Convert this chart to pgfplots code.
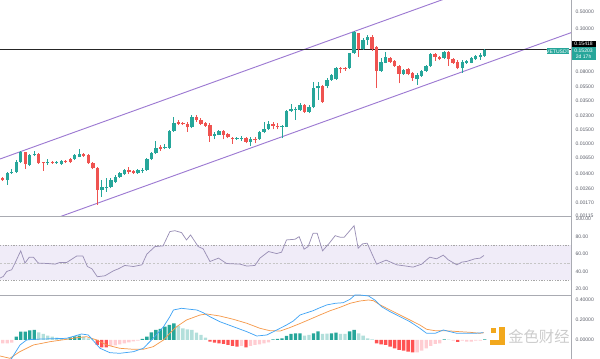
\documentclass[border=0pt]{standalone}
\usepackage{pgfplots}
\pgfplotsset{compat=1.18}
\usepackage{pgfplotstable}
\usepackage{fontspec}
\setmainfont{Liberation Sans}
\newfontfamily\cjk{Noto Sans CJK SC}
\definecolor{up}{HTML}{26A69A}
\definecolor{dn}{HTML}{EF5350}
\definecolor{chan}{HTML}{9D7AD2}
\definecolor{axisgray}{HTML}{A9ABB2}
\definecolor{lbl}{HTML}{5D606B}
\definecolor{rsiline}{HTML}{9A90B6}
\definecolor{rsiband}{HTML}{F0ECF8}
\definecolor{macdblue}{HTML}{42A5F5}
\definecolor{macdorange}{HTML}{F59A4C}
\definecolor{hdark}{HTML}{26A69A}
\definecolor{hlight}{HTML}{B2DFDB}
\definecolor{hred}{HTML}{FF5252}
\definecolor{hpink}{HTML}{FFCDD2}
\definecolor{logo}{HTML}{F2A81D}

\pgfplotstableread{
i o h l c
1 .003535 .004454 .003060 .004327
2 .004327 .004857 .004204 .004454
3 .004454 .006299 .004327 .005946
4 .005946 .008169 .005776 .007937
6 .005452 .007491 .005297 .007278
7 .007278 .008169 .007071 .007491
10 .005776 .006484 .005500 .005946
12 .005726 .006120 .005612 .005946
13 .005661 .006299 .005452 .006120
16 .006484 .007384 .006299 .007215
17 .006930 .008580 .006811 .007491
22 .002648 .003535 .002182 .002863
23 .002782 .003713 .002521 .002913
24 .002913 .003713 .002782 .003535
25 .003366 .004084 .003242 .003889
26 .003889 .004454 .003746 .004290
27 .004168 .004857 .004084 .004719
30 .004290 .004857 .004204 .004719
31 .004625 .005043 .004365 .004719
32 .004719 .006674 .004585 .006484
33 .006484 .007937 .006299 .007644
34 .007644 .010905 .007491 .008987
36 .009091 .009914 .008580 .009250
37 .008909 .014984 .008655 .014557
38 .014557 .022004 .014266 .018503
42 .016200 .023111 .015738 .022004
47 .012709 .014021 .011453 .013349
48 .013082 .014984 .012783 .014557
52 .011654 .012348 .011225 .011893
53 .011722 .012600 .011000 .011893
55 .010687 .012136 .009439 .011453
57 .011453 .014684 .011225 .014266
58 .014266 .019044 .013621 .015423
59 .015423 .019602 .014984 .017666
62 .016483 .017312 .011790 .016820
63 .016483 .026702 .016200 .025941
64 .025941 .031755 .025422 .027245
65 .027245 .029374 .020003 .027485
66 .026702 .032403 .026167 .030851
68 .025422 .030851 .024273 .029374
69 .029374 .060475 .028046 .049978
70 .049978 .060475 .035645 .053411
72 .053411 .066716 .049978 .063519
73 .063519 .075538 .061708 .073388
74 .064812 .093274 .063519 .090615
77 .089059 .139762 .086514 .137353
78 .137353 .261574 .134607 .251931
80 .155525 .211852 .151096 .201700
81 .201700 .233038 .174572 .221879
84 .083092 .118886 .080728 .107763
85 .104698 .143854 .102893 .124512
89 .075538 .087277 .073388 .084791
92 .064812 .077079 .054976 .073388
93 .071300 .085524 .069268 .083092
94 .083092 .097966 .080728 .095178
95 .095178 .137353 .092466 .133447
98 .118886 .146789 .115487 .143854
102 .089059 .113188 .078431 .105908
103 .104698 .114166 .101713 .110920
104 .104698 .122375 .102893 .118886
105 .115487 .130774 .113188 .127053
106 .124512 .139762 .113188 .130774
107 .127053 .154500 .123433 .152030
}\upc

\pgfplotstableread{
i o h l c
0 .003746 .003855 .003434 .003535
5 .007937 .008006 .004857 .005612
8 .007491 .007711 .005612 .005776
9 .005946 .005997 .004625 .005776
11 .005946 .006120 .005612 .005776
14 .006120 .006299 .005776 .005997
15 .006427 .006578 .005776 .005894
18 .007427 .007711 .006870 .007071
19 .007278 .007491 .005612 .005726
20 .005827 .005997 .004815 .004957
21 .004957 .005102 .001717 .002648
28 .004719 .005102 .004241 .004493
29 .004625 .004787 .004204 .004365
35 .009091 .009715 .008240 .008655
39 .018880 .020003 .017312 .017820
40 .018183 .018880 .017312 .017666
41 .017820 .019044 .014266 .016200
43 .022004 .023111 .019044 .020003
44 .020003 .021010 .017312 .017820
45 .018183 .019044 .016483 .016820
46 .017312 .018183 .010687 .012600
49 .014684 .014984 .011453 .012969
50 .013234 .013860 .011790 .012136
51 .011996 .012348 .010000 .011654
54 .011996 .012348 .010204 .010687
56 .011654 .012136 .010204 .011322
60 .017666 .019044 .015289 .016820
61 .016965 .018183 .015289 .016674
67 .030851 .031755 .024699 .025422
71 .053411 .054976 .032971 .033937
75 .090615 .093274 .077079 .086514
76 .089059 .092466 .082374 .086514
79 .244760 .249052 .124512 .154165
82 .221879 .233038 .148068 .154165
83 .166214 .169605 .050851 .082374
86 .120963 .124512 .104698 .107763
87 .109962 .113188 .092466 .095178
88 .095178 .097966 .057741 .075538
90 .086514 .089059 .072754 .074887
91 .077079 .080728 .062246 .066716
96 .133447 .139762 .110920 .124512
97 .124512 .128153 .112200 .115487
99 .143854 .148068 .095178 .115487
100 .115487 .118886 .101713 .104698
101 .107763 .113188 .086514 .089059
}\dnc

\pgfplotsset{
  panel/.style={
    scale only axis, width=428.25pt, xmin=-0.6, xmax=126.15,
    axis y line*=right, xtick=\empty, major tick length=0pt,
    axis line style={-, draw=axisgray, line width=0.6pt},
    yticklabel style={font=\fontsize{3.8}{4.5}\selectfont, text=lbl, inner sep=0pt, xshift=3.2pt},
    clip mode=individual,
  },
  candle/.style={draw=none, mark=none, forget plot,
    error bars/.cd, y dir=plus, y explicit, error mark=none,
    error bar style={draw=#1, solid, line width=0.7pt}},
  body/.style={draw=none, mark=none, forget plot,
    error bars/.cd, y dir=plus, y explicit, error mark=none,
    error bar style={draw=#1, solid, line width=2.55pt}},
  hist/.style={ybar, bar width=2.5pt, bar shift=0pt, fill=#1, draw=none, forget plot},
}

\begin{document}
\begin{tikzpicture}
\path[use as bounding box] (0,0) rectangle (450pt,-269.25pt);

% ---------------- main price panel ----------------
\begin{axis}[panel, at={(0pt,0pt)}, anchor=north west, height=162pt,
  ymode=log, ymin=0.0012497, ymax=0.64048, axis x line*=bottom,
  ytick={0.4529,0.27714,0.0800,0.051889,0.034629,0.022453,0.014984,0.0100,0.006674,0.0042041,0.002726,0.0018192,0.0012497},
  yticklabels={0.50000,0.30000,0.08000,0.05500,0.03500,0.02300,0.01500,0.01000,0.00650,0.00400,0.00260,0.00170,0.00115}]
  \addplot[chan, line width=0.7pt] coordinates {(-0.6,0.006484) (126.15,2.461)};
  \addplot[chan, line width=0.7pt] coordinates {(-0.6,0.000656) (126.15,0.2492)};
  \addplot[black!85, line width=0.7pt] coordinates {(-0.6,0.15203) (126.15,0.15203)};
  \addplot[candle=up] table[x=i, y=l, y error plus expr=\thisrow{h}-\thisrow{l}] {\upc};
  \addplot[candle=dn] table[x=i, y=l, y error plus expr=\thisrow{h}-\thisrow{l}] {\dnc};
  \addplot[body=up] table[x=i, y=o, y error plus expr=\thisrow{c}-\thisrow{o}] {\upc};
  \addplot[body=dn] table[x=i, y=c, y error plus expr=\thisrow{o}-\thisrow{c}] {\dnc};
\end{axis}

% ---------------- RSI panel ----------------
\begin{axis}[panel, at={(0pt,-162pt)}, anchor=north west, height=59.25pt,
  ymin=13.2, ymax=103.6, axis x line*=bottom,
  ytick={20,40,60,80,100}, yticklabels={20.00,40.00,60.00,80.00,100.00}]
  \addplot[fill=rsiband, draw=none] coordinates {(-0.6,30) (126.15,30) (126.15,70) (-0.6,70)} -- cycle;
  \addplot[gray!70, dash pattern=on 1pt off 1pt, line width=0.45pt] coordinates {(-0.6,70) (126.15,70)};
  \addplot[gray!45, dash pattern=on 1.6pt off 1.2pt, line width=0.45pt] coordinates {(-0.6,50) (126.15,50)};
  \addplot[gray!70, dash pattern=on 1pt off 1pt, line width=0.45pt] coordinates {(-0.6,30) (126.15,30)};
  \addplot[rsiline, line width=0.55pt] coordinates {
    (-0.6,32.6) (0.13,34.4) (0.89,40.1) (2.0,42.1) (2.73,49.7) (4.0,63.7) (4.95,49.7) (5.9,56.5)
    (6.8,56.5) (7.9,49.7) (9.77,49.3) (11.6,48.5) (12.7,50.4) (14.2,50.4) (16.4,57.7) (17.8,57.7)
    (18.8,45.8) (19.8,43.2) (21.0,34.1) (22.7,35.2) (24.6,40.9) (25.7,43.2) (27.1,47.0) (29.0,45.8)
    (30.9,47.7) (32.0,60.0) (33.8,68.6) (35.6,69.4) (37.1,85.7) (38.2,86.8) (39.7,84.6) (40.8,76.2)
    (41.7,81.9) (43.4,68.6) (44.5,66.0) (46.0,51.5) (47.9,55.4) (49.7,49.2) (52.7,48.5) (54.2,46.3)
    (56.0,47.0) (57.1,55.4) (59.0,62.9) (60.8,60.6) (61.9,62.2) (63.0,76.2) (64.9,77.0) (65.8,80.0)
    (66.9,65.6) (67.8,68.6) (68.9,83.9) (69.8,83.9) (71.0,63.7) (72.5,72.5) (73.8,81.1) (74.9,79.3)
    (75.8,79.3) (78.0,92.5) (78.9,66.8) (79.9,71.7) (80.9,72.5) (83.0,48.5) (85.1,53.1) (87.5,47.7)
    (89.1,46.6) (91.1,45.1) (93.0,48.5) (94.8,56.5) (96.3,54.6) (97.8,58.8) (98.9,53.5) (100.8,47.7)
    (101.9,50.8) (103.0,51.6) (104.8,54.6) (106.0,55.4) (106.8,58.4)};
\end{axis}

% ---------------- MACD panel ----------------
\begin{axis}[panel, at={(0pt,-221.25pt)}, anchor=north west, height=48pt,
  ymin=-0.19, ymax=0.45, axis x line=none,
  ytick={0,0.2,0.4}, yticklabels={0.00000,0.20000,0.40000}]
  \addplot[hist=hdark] coordinates {(3,.033) (4,.083) (5,.083) (6,.097) (7,.1) (15,.027) (16,.037) (17,.043)
    (31,.01) (32,.033) (33,.077) (34,.1) (35,.11) (36,.133) (37,.15) (38,.167) (60,.007) (61,.01) (62,.017)
    (63,.04) (64,.06) (65,.067) (66,.067) (69,.067) (70,.087) (73,.067) (74,.073) (77,.087) (78,.1) (98,.007) (107,.007)};
  \addplot[hist=hlight] coordinates {(8,.077) (9,.06) (10,.043) (11,.033) (12,.023) (13,.017) (14,.013) (18,.033)
    (19,.017) (20,.007) (39,.14) (40,.117) (41,.107) (42,.1) (43,.073) (44,.05) (45,.023) (67,.043) (68,.05)
    (71,.06) (72,.063) (75,.06) (76,.06) (79,.067) (80,.043) (81,.017) (82,.007) (99,.003)};
  \addplot[hist=hred] coordinates {(21,-.05) (22,-.073) (23,-.073) (46,-.017) (47,-.027) (48,-.033) (49,-.04)
    (50,-.05) (51,-.06) (52,-.067) (54,-.073) (83,-.033) (84,-.043) (85,-.05) (86,-.067) (87,-.083) (88,-.1)
    (89,-.107) (90,-.117) (91,-.123) (101,-.02)};
  \addplot[hist=hpink] coordinates {(0,-.033) (1,-.033) (2,-.027) (24,-.06) (25,-.053) (26,-.043) (27,-.033)
    (28,-.023) (29,-.013) (30,-.007) (53,-.06) (55,-.06) (56,-.05) (57,-.043) (58,-.033) (59,-.023) (92,-.123)
    (93,-.107) (94,-.083) (95,-.06) (96,-.04) (97,-.033) (100,-.007) (102,-.007) (103,-.017) (104,-.017)
    (105,-.007) (106,-.007)};
  \addplot[macdorange, line width=0.55pt] coordinates {
    (-0.6,-0.16) (1.6,-0.183) (3.8,-0.117) (6.8,-0.05) (10.5,-0.017) (14.2,0.007) (16.4,0.023) (18.6,0.033)
    (20.9,0) (23.1,-0.05) (26.0,-0.083) (29.0,-0.093) (31.2,-0.093) (33.4,-0.067) (35.7,0) (37.1,0.067)
    (38.6,0.133) (40.8,0.2) (43.8,0.25) (45.3,0.26) (48.2,0.24) (51.2,0.207) (54.2,0.167) (57.1,0.117)
    (59.3,0.093) (61.6,0.09) (63.8,0.125) (66.0,0.165) (68.2,0.207) (70.4,0.25) (72.7,0.293) (74.9,0.327)
    (77.1,0.367) (79.3,0.39) (81.2,0.4) (82.3,0.393) (83.8,0.35) (86.0,0.3) (88.2,0.25) (90.4,0.2)
    (92.6,0.15) (94.1,0.107) (96.0,0.093) (97.8,0.093) (99.3,0.09) (101.5,0.083) (103.7,0.077) (105.9,0.067) (106.8,0.073)};
  \addplot[macdblue, line width=0.55pt] coordinates {
    (0.5,-0.25) (2.0,-0.183) (3.84,-0.05) (5.3,0) (6.8,0.007) (9.0,0.01) (14.2,0.017) (17.5,0.06) (19.0,0.05)
    (21.6,-0.083) (23.8,-0.127) (26.0,-0.133) (29.0,-0.117) (31.2,-0.083) (33.4,0.017) (35.7,0.133)
    (37.1,0.233) (37.9,0.3) (39.7,0.317) (41.6,0.307) (43.1,0.3) (44.5,0.273) (46.0,0.233) (48.2,0.183)
    (51.2,0.133) (54.2,0.083) (56.4,0.04) (58.6,0.05) (60.1,0.083) (63.0,0.15) (64.5,0.19) (66.0,0.25)
    (68.9,0.293) (70.1,0.317) (71.9,0.35) (73.8,0.367) (75.6,0.373) (77.1,0.407) (78.2,0.45) (79.3,0.45)
    (81.2,0.44) (82.6,0.4) (84.1,0.333) (86.0,0.283) (88.2,0.233) (90.4,0.183) (92.6,0.117) (94.1,0.067)
    (96.0,0.067) (97.8,0.1) (99.3,0.083) (100.8,0.067) (103.0,0.067) (104.8,0.067) (106.7,0.073)};
\end{axis}

% ---------------- labels and watermark (pixel grid) ----------------
\begin{scope}[x=0.75pt, y=-0.75pt, every node/.style={inner sep=0pt, font=\fontsize{3.8}{4.5}\selectfont}]
  \fill[black] (571.7,41) rectangle (595.5,47.3);
  \node[white] at (583.6,44.2) {0.15418};
  \fill[up] (571.7,47.3) rectangle (595.5,60);
  \node[white] at (583.6,50.6) {0.15203};
  \node[white] at (583.6,56.6) {2d 17h};
  \fill[up] (546.7,48.3) rectangle (569.3,54.5);
  \node[white] at (558,51.4) {VETUSDT};
  \fill[logo] (490.7,328.3) rectangle (496,333.3);
  \fill[logo] (499.3,326.7) rectangle (504.7,345);
  \fill[logo] (490,340) rectangle (504.7,345);
  \node[anchor=west, text=gray!40, font=\cjk\fontsize{11.5}{12}\selectfont] at (508,336.3) {金色财经};
\end{scope}
\end{tikzpicture}
\end{document}
